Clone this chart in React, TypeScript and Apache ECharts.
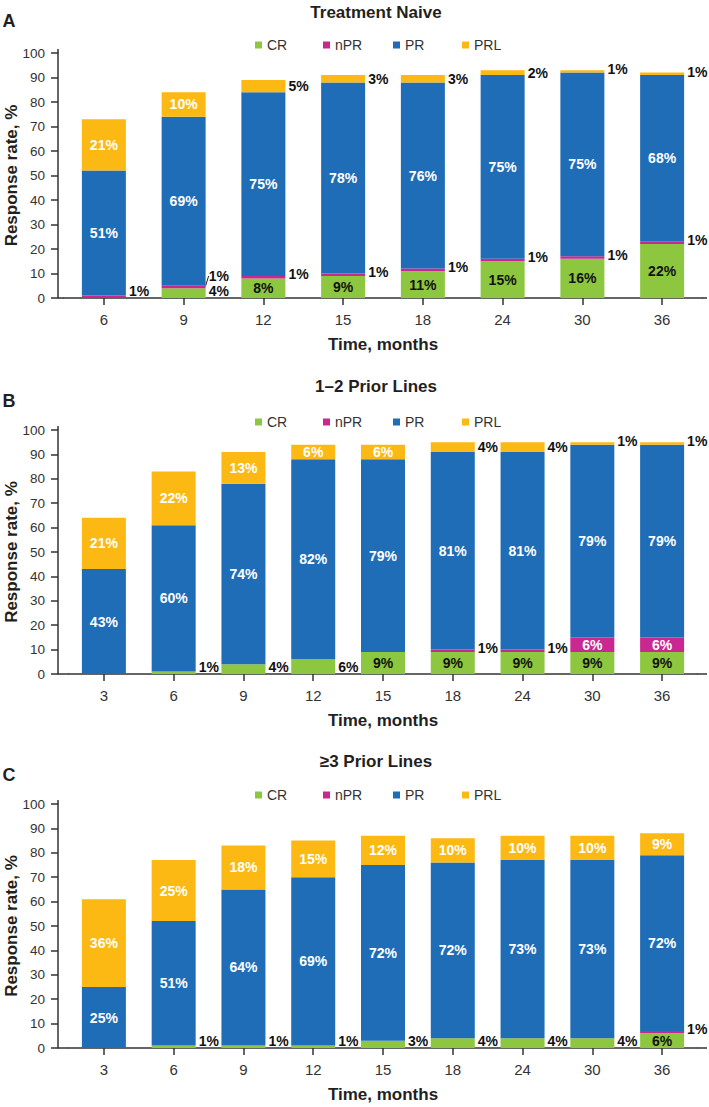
import React, { useEffect, useRef } from "react";
import * as echarts from "echarts";

// ---------- data ----------
const seriesNames = ["CR", "nPR", "PR", "PRL"];

const naiveMonths = ["6", "9", "12", "15", "18", "24", "30", "36"];
const naiveCR = [0, 4, 8, 9, 11, 15, 16, 22];
const naiveNPR = [1, 1, 1, 1, 1, 1, 1, 1];
const naivePR = [51, 69, 75, 78, 76, 75, 75, 68];
const naivePRL = [21, 10, 5, 3, 3, 2, 1, 1];

const prior12Months = ["3", "6", "9", "12", "15", "18", "24", "30", "36"];
const prior12CR = [0, 1, 4, 6, 9, 9, 9, 9, 9];
const prior12NPR = [0, 0, 0, 0, 0, 1, 1, 6, 6];
const prior12PR = [43, 60, 74, 82, 79, 81, 81, 79, 79];
const prior12PRL = [21, 22, 13, 6, 6, 4, 4, 1, 1];

const prior3Months = ["3", "6", "9", "12", "15", "18", "24", "30", "36"];
const prior3CR = [0, 1, 1, 1, 3, 4, 4, 4, 6];
const prior3NPR = [0, 0, 0, 0, 0, 0, 0, 0, 1];
const prior3PR = [25, 51, 64, 69, 72, 72, 73, 73, 72];
const prior3PRL = [36, 25, 18, 15, 12, 10, 10, 10, 9];

const yTicks = { min: 0, max: 100, interval: 10 };

const panels = [
  { title: "Treatment Naive", letter: "A", cats: naiveMonths, values: [naiveCR, naiveNPR, naivePR, naivePRL] },
  { title: "1\u20132 Prior Lines", letter: "B", cats: prior12Months, values: [prior12CR, prior12NPR, prior12PR, prior12PRL] },
  { title: "\u22653 Prior Lines", letter: "C", cats: prior3Months, values: [prior3CR, prior3NPR, prior3PR, prior3PRL] },
];

// label placement exceptions (presentation only)
const forcedRightLabels = [{ panel: 1, series: 0, index: 3 }];
const leaderLabels = [{ panel: 0, series: 1, index: 1 }];

// ---------- styles / layout ----------
const colors = ["#8dc63f", "#c8288f", "#1f6db6", "#fdb913"];
const FONT = '"Liberation Sans", Arial, Helvetica, sans-serif';
const AXIS_X = 58;
const AXIS_RIGHT = 707;
const legendLefts = [255, 323, 393, 462];
const layouts = [
  { top: 53, height: 245, left: 64, width: 638, titleY: 12, letterY: 21, legendTop: 38 },
  { top: 430, height: 244, left: 69, width: 628, titleY: 386, letterY: 401, legendTop: 415 },
  { top: 804, height: 244, left: 69, width: 628, titleY: 761, letterY: 775, legendTop: 788 },
];

function isIn(list: any[], p: number, s: number, i: number) {
  return list.some((e) => e.panel === p && e.series === s && e.index === i);
}

function buildOption() {
  const grid: any[] = [];
  const xAxis: any[] = [];
  const yAxis: any[] = [];
  const series: any[] = [];
  const legend: any[] = [];
  const graphic: any[] = [];

  panels.forEach((panel, p) => {
    const L = layouts[p];
    const pxPerUnit = L.height / (yTicks.max - yTicks.min);
    const axisY = L.top + L.height;

    grid.push({ left: L.left, top: L.top, width: L.width, height: L.height, outerBoundsMode: "none" });

    xAxis.push({
      type: "category",
      gridIndex: p,
      data: panel.cats,
      axisLine: { show: true, lineStyle: { color: "#333", width: 1.5 } },
      axisTick: { show: true, alignWithLabel: true, length: 7, lineStyle: { color: "#333", width: 1.5 } },
      axisLabel: { margin: 14, fontSize: 15, color: "#333", fontFamily: FONT },
      name: "Time, months",
      nameLocation: "middle",
      nameGap: 38,
      nameMoveOverlap: false,
      nameTextStyle: { fontSize: 17, fontWeight: "bold", color: "#231f20", fontFamily: FONT },
    });

    yAxis.push({
      type: "value",
      gridIndex: p,
      min: yTicks.min,
      max: yTicks.max,
      interval: yTicks.interval,
      offset: L.left - AXIS_X,
      axisLine: { show: true, lineStyle: { color: "#333", width: 1.5 } },
      axisTick: { show: true, length: 7, lineStyle: { color: "#333", width: 1.5 } },
      axisLabel: { margin: 13, fontSize: 13.5, color: "#333", fontFamily: FONT },
      splitLine: { show: false },
      name: "Response rate, %",
      nameLocation: "middle",
      nameGap: 38,
      nameMoveOverlap: false,
      nameTextStyle: { fontSize: 17, fontWeight: "bold", color: "#231f20", fontFamily: FONT },
    });

    panel.values.forEach((vals, s) => {
      const dyArr: number[] = [];
      const data = vals.map((v, i) => {
        dyArr.push(0);
        if (!v) return { value: v, label: { show: false } };
        let base = 0;
        for (let k = 0; k < s; k++) base += panel.values[k][i];
        const inside = v >= 6 && !isIn(forcedRightLabels, p, s, i);
        if (inside) {
          return {
            value: v,
            label: { show: true, position: "inside", color: s === 0 ? "#111" : "#fff" },
          };
        }
        const leader = isIn(leaderLabels, p, s, i);
        const centerPx = (base + v / 2) * pxPerUnit;
        let dy = centerPx < 7 ? centerPx - 7 : 0;
        if (s === 1) dy = Math.min(dy, -3);
        if (s === 3 && v <= 1) dy = -2;
        if (leader) dy = -11;
        dyArr[i] = dy;
        const item: any = {
          value: v,
          label: { show: true, position: "right", distance: 3, color: "#111" },
        };
        item.labelLine = leader
          ? { show: true, lineStyle: { color: "#222", width: 1 } }
          : { show: false };
        return item;
      });
      series.push({
        type: "bar",
        name: seriesNames[s],
        xAxisIndex: p,
        yAxisIndex: p,
        stack: "stack" + p,
        barWidth: 44,
        itemStyle: { color: colors[s] },
        label: {
          show: true,
          formatter: (prm: any) => prm.value + "%",
          fontSize: 14,
          fontWeight: "bold",
          fontFamily: FONT,
          textBorderWidth: 0,
        },
        labelLayout: (prm: any) => (dyArr[prm.dataIndex] ? { dy: dyArr[prm.dataIndex] } : {}),
        emphasis: { disabled: true },
        data,
      });
    });

    seriesNames.forEach((nm, s) => {
      legend.push({
        data: [nm],
        left: legendLefts[s],
        top: L.legendTop,
        padding: 0,
        icon: "rect",
        itemWidth: 7,
        itemHeight: 7,
        selectedMode: false,
        textStyle: { fontSize: 14, color: "#333", fontFamily: FONT },
      });
    });

    graphic.push({
      type: "text",
      x: 376,
      y: L.titleY,
      style: {
        text: panel.title,
        fontSize: 17,
        fontWeight: "bold",
        fontFamily: FONT,
        fill: "#231f20",
        align: "center",
        verticalAlign: "middle",
      },
    });
    graphic.push({
      type: "text",
      x: 9,
      y: L.letterY,
      style: {
        text: panel.letter,
        fontSize: 18,
        fontWeight: "bold",
        fontFamily: FONT,
        fill: "#231f20",
        align: "center",
        verticalAlign: "middle",
      },
    });
    // axis line extensions (decoration)
    graphic.push({
      type: "line",
      shape: { x1: AXIS_X, y1: axisY, x2: L.left, y2: axisY },
      style: { stroke: "#333", lineWidth: 1.5 },
    });
    graphic.push({
      type: "line",
      shape: { x1: L.left + L.width, y1: axisY, x2: AXIS_RIGHT, y2: axisY },
      style: { stroke: "#333", lineWidth: 1.5 },
    });
    graphic.push({
      type: "line",
      shape: { x1: AXIS_X, y1: L.top - 4, x2: AXIS_X, y2: L.top },
      style: { stroke: "#333", lineWidth: 1.5 },
    });
  });

  return {
    animation: false,
    backgroundColor: "#ffffff",
    grid,
    xAxis,
    yAxis,
    legend,
    series,
    graphic,
  };
}

export default function App() {
  const ref = useRef<HTMLDivElement>(null);
  useEffect(() => {
    document.body.style.margin = "0";
    if (!ref.current) return;
    const chart = echarts.init(ref.current, null, { renderer: "svg" });
    chart.setOption(buildOption() as any);
    return () => chart.dispose();
  }, []);
  return (
    <div
      ref={ref}
      style={{ position: "absolute", left: 0, top: 0, width: 709, height: 1107, background: "#fff" }}
    />
  );
}
